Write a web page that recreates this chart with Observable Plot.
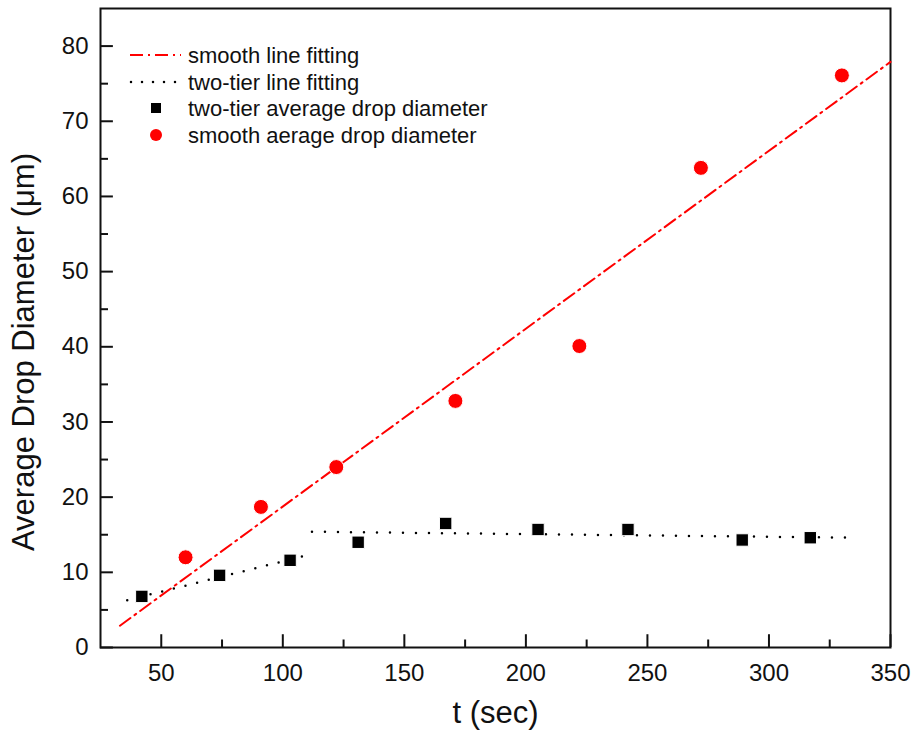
<!DOCTYPE html>
<html>
<head>
<meta charset="utf-8">
<script src="https://cdn.jsdelivr.net/npm/d3@7"></script>
<script src="https://cdn.jsdelivr.net/npm/@observablehq/plot@0.6"></script>
<style>
  html, body { margin: 0; padding: 0; background: #fff; }
  svg { font-family: "Liberation Sans", Arial, sans-serif; }
</style>
</head>
<body>
<div id="chart"></div>
<script>
// ---- data ----
const smoothT = [60, 91, 122, 171, 222, 272, 330];
const smoothD = [12.0, 18.7, 24.0, 32.8, 40.1, 63.8, 76.1];

const tierT = [42, 74, 103, 131, 167, 205, 242, 289, 317];
const tierD = [6.8, 9.6, 11.6, 14.0, 16.5, 15.7, 15.7, 14.3, 14.6];

// fitted lines (end points)
const smoothFitT = [33, 350];
const smoothFitD = [2.9, 77.9];
const tierFit1T = [36, 108];
const tierFit1D = [6.3, 12.1];
const tierFit2T = [112, 336];
const tierFit2D = [15.4, 14.6];

const xMajor = [50, 100, 150, 200, 250, 300, 350];
const xMinor = [75, 125, 175, 225, 275, 325];
const yMajor = [0, 10, 20, 30, 40, 50, 60, 70, 80];
const yMinor = [5, 15, 25, 35, 45, 55, 65, 75];

const legendLabels = [
  "smooth line fitting",
  "two-tier line fitting",
  "two-tier average drop diameter",
  "smooth aerage drop diameter"
];

const RED = "#ff0000";
const INK = "#111";

const smoothPts = smoothT.map((t, i) => ({t, d: smoothD[i]}));
const tierPts = tierT.map((t, i) => ({t, d: tierD[i]}));
const smoothFit = smoothFitT.map((t, i) => ({t, d: smoothFitD[i]}));
const tierFit1 = tierFit1T.map((t, i) => ({t, d: tierFit1D[i]}));
const tierFit2 = tierFit2T.map((t, i) => ({t, d: tierFit2D[i]}));

function legendMark(index, scales, values, dim) {
  const g = d3.create("svg:g")
    .attr("font-family", "Liberation Sans, Arial, sans-serif")
    .attr("font-size", 22)
    .attr("text-anchor", "start");
  const x0 = dim.marginLeft + 30;
  const rows = [47, 74, 100, 127].map(v => dim.marginTop + v);
  g.append("line").attr("x1", x0).attr("x2", x0 + 51)
    .attr("y1", rows[0]).attr("y2", rows[0])
    .attr("stroke", RED).attr("stroke-width", 2).attr("stroke-dasharray", "13,5,2,5");
  g.append("line").attr("x1", x0 + 1).attr("x2", x0 + 48)
    .attr("y1", rows[1]).attr("y2", rows[1])
    .attr("stroke", "#000").attr("stroke-width", 2.5)
    .attr("stroke-linecap", "round").attr("stroke-dasharray", "0,11");
  g.append("rect").attr("x", x0 + 26 - 5).attr("y", rows[2] - 5)
    .attr("width", 10).attr("height", 10).attr("fill", "#000");
  g.append("circle").attr("cx", x0 + 26).attr("cy", rows[3]).attr("r", 6).attr("fill", RED);
  legendLabels.forEach((s, i) => {
    g.append("text").attr("x", x0 + 58).attr("y", rows[i]).attr("dy", "0.35em")
      .attr("fill", INK).text(s);
  });
  return g.node();
}

const chart = Plot.plot({
  width: 914,
  height: 738,
  marginLeft: 100,
  marginRight: 24,
  marginTop: 8,
  marginBottom: 91,
  style: {fontFamily: "Liberation Sans, Arial, sans-serif", background: "#fff", color: INK},
  x: {domain: [25, 350]},
  y: {domain: [0, 85]},
  marks: [
    Plot.frame({stroke: INK, strokeWidth: 2}),
    // tick labels
    Plot.axisX(xMajor, {tickSize: 0, tickPadding: 16, fontSize: 24, label: null, fill: INK}),
    Plot.axisY(yMajor, {tickSize: 0, tickPadding: 12, fontSize: 24, label: null, fill: INK}),
    // inward ticks
    Plot.ruleX(xMajor, {x: d => d, y1: 0, y2: 1.7, stroke: INK, strokeWidth: 2}),
    Plot.ruleX(xMinor, {x: d => d, y1: 0, y2: 1.0, stroke: INK, strokeWidth: 2}),
    Plot.ruleY(yMajor, {y: d => d, x1: 25, x2: 30.3, stroke: INK, strokeWidth: 2}),
    Plot.ruleY(yMinor, {y: d => d, x1: 25, x2: 28.3, stroke: INK, strokeWidth: 2}),
    // axis titles
    Plot.text(["t (sec)"], {frameAnchor: "bottom", dy: 75, fontSize: 31, fill: INK}),
    Plot.text(["Average Drop Diameter (\u03bcm)"], {frameAnchor: "left", textAnchor: "middle", rotate: -90, dx: -76, dy: 24, fontSize: 31, fill: INK}),
    // fit lines
    Plot.line(smoothFit, {x: "t", y: "d", stroke: RED, strokeWidth: 2, strokeDasharray: "13,5,2,5"}),
    Plot.line(tierFit1, {x: "t", y: "d", stroke: "#000", strokeWidth: 2.5, strokeLinecap: "round", strokeDasharray: "0,12"}),
    Plot.line(tierFit2, {x: "t", y: "d", stroke: "#000", strokeWidth: 2.5, strokeLinecap: "round", strokeDasharray: "0,13"}),
    // points
    Plot.dot(tierPts, {x: "t", y: "d", symbol: "square", r: 7, fill: "#000", stroke: "#fff", strokeWidth: 1}),
    Plot.dot(smoothPts, {x: "t", y: "d", r: 7.5, fill: RED, stroke: "#fff", strokeWidth: 1}),
    legendMark
  ]
});
document.getElementById("chart").appendChild(chart);
</script>
</body>
</html>
